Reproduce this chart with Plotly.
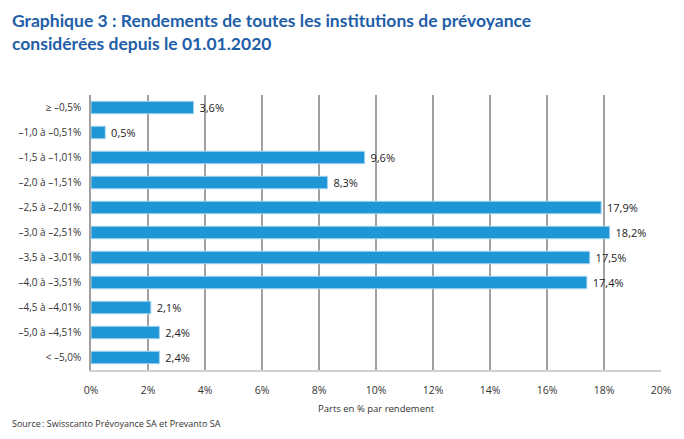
import plotly.graph_objects as go

categories = ["≥ –0,5%", "–1,0 à –0,51%", "–1,5 à –1,01%", "–2,0 à –1,51%",
              "–2,5 à –2,01%", "–3,0 à –2,51%", "–3,5 à –3,01%", "–4,0 à –3,51%",
              "–4,5 à –4,01%", "–5,0 à –4,51%", "< –5,0%"]
values = [3.6, 0.5, 9.6, 8.3, 17.9, 18.2, 17.5, 17.4, 2.1, 2.4, 2.4]
x_ticks = [0, 2, 4, 6, 8, 10, 12, 14, 16, 18, 20]

title = "Graphique 3\u202f: Rendements de toutes les institutions de prévoyance<br>considérées depuis le 01.01.2020"
x_title = "Parts en % par rendement"
source = "Source\u202f: Swisscanto Prévoyance SA et Prevanto SA"

# page has an 8px body margin: figure is sized to fit the window exactly
OFF = 8
W, H = 684 - 2 * OFF, 439 - 2 * OFF
L, R, T = 91 - OFF, W - (661 - OFF), 95 - OFF
B = H - (370 - OFF)
pw, ph = W - L - R, H - T - B


def px_x(x):
    return (x - OFF - L) / pw


def px_y(y):
    return 1 - (y - OFF - T) / ph


fig = go.Figure(go.Bar(
    y=categories, x=values, orientation="h",
    marker=dict(color="#1f96d5", line=dict(color="#a8d4f0", width=1)),
    width=0.5,
    text=[f" {v:.1f}%".replace(".", ",") for v in values],
    textposition="outside",
    constraintext="none",
    textfont=dict(family="Open Sans", size=11, color="#222222"),
    cliponaxis=False,
))

fig.update_layout(
    width=W, height=H,
    margin=dict(l=L, r=R, t=T, b=B),
    paper_bgcolor="white", plot_bgcolor="white",
    showlegend=False,
    font=dict(family="Open Sans", size=10, color="#333333"),
    bargap=0.5,
)

fig.update_xaxes(range=[0, 20], tickvals=x_ticks, ticktext=[f"{t}%" for t in x_ticks],
                 showgrid=True, gridcolor="#a0a0a0", gridwidth=1.5,
                 zeroline=False, showline=True, linecolor="#d0d0d0", linewidth=1.5,
                 ticks="outside", ticklen=10, tickcolor="rgba(0,0,0,0)",
                 automargin=False,
                 tickfont=dict(family="Open Sans", size=10.5, color="#333333"))
fig.update_yaxes(autorange="reversed", showgrid=False, zeroline=False,
                 showline=True, linecolor="#a0a0a0", linewidth=1.5,
                 ticks="outside", ticklen=6, tickcolor="rgba(0,0,0,0)",
                 automargin=False,
                 tickfont=dict(family="Open Sans", size=10, color="#333333"))

fig.add_annotation(text="<b>" + title + "</b>", x=px_x(10), xref="paper", xanchor="left",
                   y=px_y(8), yref="paper", yanchor="top", align="left", showarrow=False,
                   font=dict(family="Lato", size=17.5, color="#1f5ea8"))
fig.add_annotation(text=x_title, x=0.5, xref="paper", y=px_y(408), yref="paper",
                   yanchor="middle", showarrow=False,
                   font=dict(family="Open Sans", size=9.5, color="#333333"))
fig.add_annotation(text=source, x=px_x(10), xref="paper", xanchor="left",
                   y=px_y(423), yref="paper", yanchor="middle", showarrow=False,
                   font=dict(family="Open Sans", size=9, color="#333333"))

fig.write_html("out.html")
